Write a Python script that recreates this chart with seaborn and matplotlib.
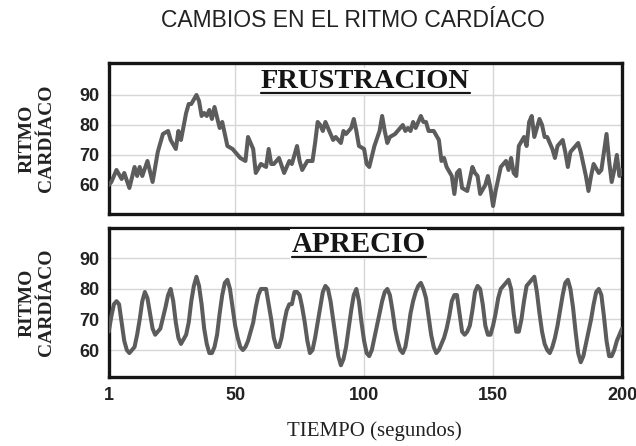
import pandas as pd
import seaborn as sns
import matplotlib
matplotlib.use('Agg')
from matplotlib import pyplot as plt

# heart rate readings (seconds, beats per minute)
frus_t = [1, 2, 4, 6, 7, 9, 11, 12, 13, 14, 16, 18, 20, 22, 24, 25, 27, 28, 29, 31,
          32, 33, 35, 36, 37, 38, 39, 40, 41, 42, 44, 45, 47, 49, 50, 52, 54, 55, 57, 58,
          60, 62, 63, 64, 65, 67, 69, 71, 72, 74, 75, 76, 78, 80, 81, 82, 83, 84, 85, 86,
          88, 89, 91, 92, 93, 95, 96, 97, 98, 100, 101, 102, 104, 106, 107, 108, 109, 110, 112, 113,
          115, 116, 117, 118, 119, 120, 122, 123, 124, 125, 127, 129, 130, 131, 132, 134, 135, 136, 137, 138,
          140, 142, 143, 144, 145, 147, 148, 149, 150, 151, 153, 155, 156, 157, 158, 159, 160, 162, 163, 164,
          165, 166, 168, 169, 170, 171, 173, 174, 175, 177, 178, 179, 180, 182, 183, 184, 186, 187, 188, 189,
          191, 192, 194, 195, 196, 197, 198, 199, 200]
frus_v = [60, 61, 65, 62, 64, 59, 66, 63, 66, 63, 68, 61, 71, 77, 78, 75, 72, 78, 75, 84,
          87, 87, 90, 88, 83, 84, 83, 85, 82, 86, 79, 81, 73, 72, 71, 69, 68, 76, 72, 64,
          67, 66, 72, 67, 67, 69, 64, 68, 67, 73, 68, 65, 68, 68, 74, 81, 80, 78, 81, 79,
          75, 76, 74, 78, 77, 79, 82, 78, 73, 72, 67, 66, 73, 78, 83, 78, 74, 76, 77, 78,
          80, 78, 79, 78, 81, 79, 83, 81, 81, 78, 78, 75, 68, 69, 66, 63, 57, 64, 65, 59,
          58, 66, 64, 63, 57, 60, 63, 59, 53, 58, 66, 68, 65, 69, 64, 63, 73, 76, 73, 81,
          83, 76, 82, 80, 76, 76, 72, 69, 73, 75, 71, 66, 71, 73, 74, 71, 63, 58, 63, 67,
          64, 65, 77, 68, 61, 65, 70, 63, 65]

apre_t = [1, 2, 3, 4, 5, 6, 7, 8, 9, 11, 12, 13, 14, 15, 16, 17, 18, 19, 21, 23,
          24, 25, 26, 27, 28, 29, 31, 32, 33, 34, 35, 36, 37, 38, 39, 40, 41, 42, 43, 44,
          45, 46, 47, 48, 49, 50, 51, 52, 53, 54, 55, 57, 58, 59, 60, 61, 62, 63, 64, 65,
          66, 67, 68, 69, 70, 71, 72, 73, 74, 75, 76, 77, 78, 79, 80, 81, 82, 83, 84, 85,
          86, 87, 88, 89, 90, 91, 92, 93, 94, 95, 96, 97, 98, 99, 100, 101, 102, 103, 104, 105,
          106, 107, 108, 109, 110, 111, 112, 113, 114, 115, 116, 117, 118, 119, 120, 121, 122, 123, 124, 125,
          126, 127, 128, 129, 130, 131, 132, 133, 134, 135, 136, 137, 138, 139, 140, 141, 142, 143, 144, 145,
          146, 147, 148, 149, 150, 151, 152, 153, 154, 155, 156, 157, 158, 159, 160, 161, 162, 163, 164, 165,
          166, 167, 168, 169, 170, 171, 172, 173, 174, 175, 176, 177, 178, 179, 180, 181, 182, 183, 184, 185,
          186, 187, 188, 189, 190, 191, 192, 193, 194, 195, 196, 197, 198, 199, 200]
apre_v = [66, 71, 75, 76, 75, 69, 63, 60, 59, 61, 65, 70, 76, 79, 77, 72, 67, 65, 67, 74,
          78, 80, 76, 69, 64, 62, 65, 69, 76, 81, 84, 81, 75, 67, 62, 59, 59, 61, 65, 72,
          78, 82, 83, 80, 74, 68, 64, 61, 60, 61, 63, 69, 74, 78, 80, 80, 80, 75, 70, 64,
          61, 61, 64, 69, 73, 75, 75, 79, 79, 78, 74, 69, 63, 59, 60, 64, 69, 74, 79, 81,
          80, 76, 70, 64, 58, 55, 57, 61, 67, 73, 78, 80, 76, 69, 63, 59, 58, 60, 64, 68,
          72, 76, 79, 80, 78, 73, 67, 63, 60, 59, 61, 66, 72, 76, 79, 81, 82, 80, 77, 71,
          65, 61, 59, 60, 62, 64, 67, 71, 76, 78, 78, 72, 66, 65, 66, 68, 73, 79, 81, 80,
          75, 68, 65, 65, 68, 72, 77, 80, 81, 82, 83, 80, 72, 66, 66, 70, 76, 81, 82, 83,
          84, 79, 72, 66, 62, 60, 59, 61, 64, 68, 73, 78, 82, 83, 80, 74, 66, 59, 56, 58,
          62, 66, 70, 75, 79, 80, 78, 71, 63, 58, 58, 60, 63, 65, 67]

x_ticks = [1, 50, 100, 150, 200]
y_ticks = [60, 70, 80, 90]

sns.set_style('white')
plt.rcParams['font.family'] = ['Liberation Sans', 'DejaVu Sans']
SERIF = ['Liberation Serif', 'DejaVu Serif']

fig = plt.figure(figsize=(6.36, 4.46), dpi=100)
ax1 = fig.add_axes([0.171, 0.520, 0.807, 0.339])
ax2 = fig.add_axes([0.171, 0.155, 0.807, 0.334])


def draw_panel(ax, t, v, ylim):
    df = pd.DataFrame({'tiempo': t, 'ritmo': v})
    ax.set_axisbelow(True)
    sns.lineplot(data=df, x='tiempo', y='ritmo', ax=ax, color='#5c5c5c', linewidth=2.9,
                 zorder=3, solid_joinstyle='round', solid_capstyle='round')
    ax.set_xlim(1, 200)
    ax.set_ylim(*ylim)
    ax.set_xticks(x_ticks)
    ax.set_yticks(y_ticks)
    ax.grid(True, color='#d6d6d6', linewidth=1.0)
    for s in ax.spines.values():
        s.set_visible(True)
        s.set_color('#151515')
        s.set_linewidth(2.4)
    ax.tick_params(length=0, labelsize=13, pad=7)
    for lab in ax.get_yticklabels() + ax.get_xticklabels():
        lab.set_fontweight('bold')
        lab.set_color('#222222')
    ax.set_ylabel('RITMO\nCARDÍACO', fontfamily=SERIF, fontweight='bold',
                  fontsize=14, linespacing=1.2, color='#222222')
    ax.yaxis.set_label_coords(-0.104, 0.5)
    ax.set_xlabel('')


draw_panel(ax1, frus_t, frus_v, (50.3, 100.7))
draw_panel(ax2, apre_t, apre_v, (51.2, 100))
ax1.tick_params(labelbottom=False)

ax2.set_xlabel('TIEMPO (segundos)', fontfamily=SERIF, fontsize=15, color='#222222')
ax2.xaxis.set_label_coords(0.517, -0.30)

t1 = ax1.text(0.5, 0.834, 'FRUSTRACION', transform=ax1.transAxes, ha='center', va='baseline',
              fontfamily=SERIF, fontweight='bold', fontsize=20.5, color='#151515', zorder=4,
              bbox=dict(facecolor='white', edgecolor='none', pad=1))
t2 = ax2.text(0.487, 0.841, 'APRECIO', transform=ax2.transAxes, ha='center', va='baseline',
              fontfamily=SERIF, fontweight='bold', fontsize=21, color='#151515', zorder=4,
              bbox=dict(facecolor='white', edgecolor='none', pad=1))

fig.text(0.555, 0.954, 'CAMBIOS EN EL RITMO CARDÍACO', ha='center', va='center',
         fontsize=16.5, color='#222222')

# underline the panel names
fig.canvas.draw()
renderer = fig.canvas.get_renderer()
for ax, txt in [(ax1, t1), (ax2, t2)]:
    bb = txt.get_window_extent(renderer)
    inv = ax.transAxes.inverted()
    (x0, y0), (x1, y1) = inv.transform([[bb.x0, bb.y0 + 1], [bb.x1, bb.y1]])
    ax.plot([x0, x1], [y0, y0], transform=ax.transAxes, color='#151515',
            linewidth=1.6, zorder=5, clip_on=False)

fig.savefig('out.png', dpi=100)
